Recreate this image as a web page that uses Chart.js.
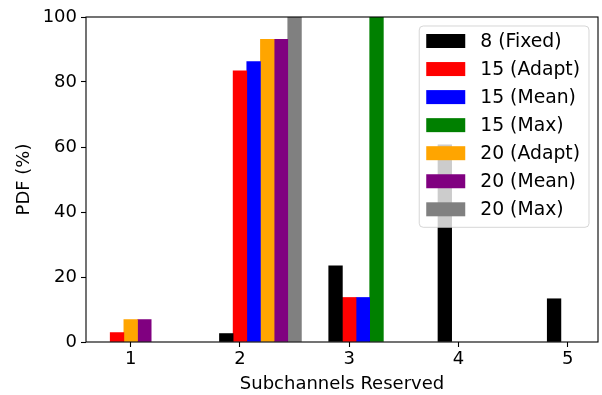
<!DOCTYPE html>
<html>
<head>
<meta charset="utf-8">
<script src="https://cdn.jsdelivr.net/npm/chart.js@4/dist/chart.umd.min.js"></script>
<style>
  html, body { margin: 0; padding: 0; background: #ffffff; }
  #wrap { width: 602px; height: 395px; }
  canvas { display: block; }
</style>
</head>
<body>
<div id="wrap"><canvas id="chart" width="602" height="395"></canvas></div>
<script>
// Subchannel reservation distribution (PDF, %) per configuration
const categories = [1, 2, 3, 4, 5];
const seriesNames = ['8 (Fixed)', '15 (Adapt)', '15 (Mean)', '15 (Max)', '20 (Adapt)', '20 (Mean)', '20 (Max)'];
const seriesColors = ['#000000', '#ff0000', '#0000ff', '#008000', '#ffa500', '#800080', '#808080'];
const fixed8  = [0, 2.6, 23.4, 60.7, 13.3];
const adapt15 = [2.9, 83.4, 13.7, 0, 0];
const mean15  = [0, 86.3, 13.7, 0, 0];
const max15   = [0, 0, 100, 0, 0];
const adapt20 = [6.9, 93.1, 0, 0, 0];
const mean20  = [6.9, 93.1, 0, 0, 0];
const max20   = [0, 100, 0, 0, 0];
const yTicks  = [0, 20, 40, 60, 80, 100];

const seriesValues = [fixed8, adapt15, mean15, max15, adapt20, mean20, max20];
const BAR_STEP = 0.125;
const FONT = 'DejaVu Sans';

// Non-empty bars of a category are packed side by side,
// the first one sitting one slot left of the category tick.
const slotCount = categories.map(() => 0);
const datasets = seriesValues.map((vals, s) => {
  const data = [];
  vals.forEach((v, c) => {
    if (v > 0) {
      data.push({ x: categories[c] + (slotCount[c] - 1) * BAR_STEP, y: v });
      slotCount[c]++;
    }
  });
  return {
    label: seriesNames[s],
    data: data,
    backgroundColor: seriesColors[s],
    borderWidth: 0,
    grouped: false,
    barPercentage: 1,
    categoryPercentage: 1
  };
});

// Box frame around the plot area, drawn over the bars
const framePlugin = {
  id: 'frame',
  afterDatasetsDraw(chart) {
    const { ctx, chartArea: a } = chart;
    ctx.save();
    ctx.strokeStyle = '#000000';
    ctx.lineWidth = 1.1;
    ctx.strokeRect(a.left, a.top, a.right - a.left, a.bottom - a.top);
    ctx.restore();
  }
};

// Legend inside the upper-right corner of the plot, semi-transparent frame
const insideLegend = {
  id: 'insideLegend',
  afterDraw(chart, args, opts) {
    const { ctx, chartArea: a } = chart;
    const ds = chart.data.datasets;
    ctx.save();
    ctx.font = opts.fontSize + 'px "' + FONT + '"';
    let maxW = 0;
    ds.forEach(d => { maxW = Math.max(maxW, ctx.measureText(d.label).width); });
    const w = opts.padLeft + opts.patchW + opts.gap + maxW + opts.padRight;
    const h = opts.padTop + opts.rowH * (ds.length - 1) + opts.padBottom;
    const right = a.right - opts.margin;
    const left = right - w;
    const top = a.top + opts.margin;
    ctx.beginPath();
    ctx.roundRect(left, top, w, h, 4);
    ctx.fillStyle = 'rgba(255,255,255,0.8)';
    ctx.fill();
    ctx.strokeStyle = 'rgba(204,204,204,0.8)';
    ctx.lineWidth = 1;
    ctx.stroke();
    ds.forEach((d, i) => {
      const cy = top + opts.padTop + i * opts.rowH;
      ctx.fillStyle = d.backgroundColor;
      ctx.fillRect(left + opts.padLeft, cy - opts.patchH / 2, opts.patchW, opts.patchH);
      ctx.fillStyle = '#000000';
      ctx.textBaseline = 'middle';
      ctx.textAlign = 'left';
      ctx.fillText(d.label, left + opts.padLeft + opts.patchW + opts.gap, cy + 1);
    });
    ctx.restore();
  }
};

new Chart(document.getElementById('chart'), {
  type: 'bar',
  data: { datasets: datasets },
  plugins: [framePlugin, insideLegend],
  options: {
    responsive: false,
    animation: false,
    devicePixelRatio: 1,
    layout: { padding: { left: 0, top: 17, right: 4, bottom: 0 } },
    plugins: {
      legend: { display: false },
      tooltip: { enabled: false },
      insideLegend: {
        fontSize: 18.8, margin: 9, padLeft: 7, padRight: 9, padTop: 15, padBottom: 18,
        rowH: 28.05, patchW: 39, patchH: 14, gap: 15
      }
    },
    scales: {
      x: {
        type: 'linear',
        offset: false,
        min: 0.591,
        max: 5.277,
        afterBuildTicks: s => { s.ticks = categories.map(v => ({ value: v })); },
        afterFit: s => { s.height = 53; },
        border: { display: false },
        grid: { display: true, offset: false, drawOnChartArea: false, drawTicks: true, tickLength: 5, tickColor: '#000000', tickWidth: 1.1 },
        ticks: { font: { family: FONT, size: 18 }, color: '#000000', padding: 2, maxRotation: 0 },
        title: { display: true, text: 'Subchannels Reserved', font: { family: FONT, size: 18 }, color: '#000000', padding: { top: 0, bottom: 0 } }
      },
      y: {
        type: 'linear',
        min: yTicks[0],
        max: yTicks[yTicks.length - 1],
        afterBuildTicks: s => { s.ticks = yTicks.map(v => ({ value: v })); },
        afterFit: s => { s.width = 86; },
        border: { display: false },
        grid: { display: true, drawOnChartArea: false, drawTicks: true, tickLength: 5, tickColor: '#000000', tickWidth: 1.1 },
        ticks: { font: { family: FONT, size: 18 }, color: '#000000', padding: 4 },
        title: { display: true, text: 'PDF (%)', font: { family: FONT, size: 18 }, color: '#000000', padding: { top: 14, bottom: 0 } }
      }
    }
  }
});
</script>
</body>
</html>
